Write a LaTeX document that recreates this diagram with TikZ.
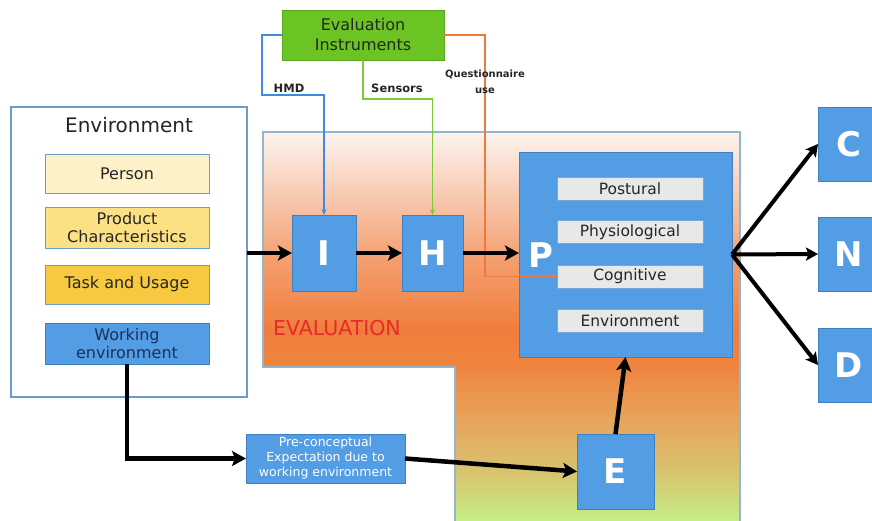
\documentclass[tikz,border=0pt]{standalone}
\usepackage{fontspec}
\setmainfont{DejaVu Sans}
\usetikzlibrary{arrows.meta,calc}

\definecolor{boxblue}{HTML}{529DE3}
\definecolor{boxedge}{HTML}{3F80C2}
\definecolor{envedge}{HTML}{6C9CC8}
\definecolor{instgreen}{HTML}{6CC324}
\definecolor{instedge}{HTML}{5AA51E}
\definecolor{personfill}{HTML}{FDF1C8}
\definecolor{productfill}{HTML}{FBE184}
\definecolor{taskfill}{HTML}{F6C940}
\definecolor{greyfill}{HTML}{E8E8E8}
\definecolor{regionedge}{HTML}{93B6CC}
\definecolor{hmdblue}{HTML}{3E8BE6}
\definecolor{sensgreen}{HTML}{7CCB35}
\definecolor{questorange}{HTML}{EE7A3A}
\definecolor{evalred}{HTML}{E52B2B}
\definecolor{navytext}{HTML}{1E2F5A}

% colour bands of the evaluation area, bottom (0bp) to top (100bp)
\pgfdeclareverticalshading{evalshade}{100bp}{%
  color(0bp)=(rgb,255:red,196;green,238;blue,136);
  color(25bp)=(rgb,255:red,196;green,238;blue,136);
  color(31.4bp)=(rgb,255:red,216;green,196;blue,110);
  color(37.9bp)=(rgb,255:red,230;green,165;blue,94);
  color(45bp)=(rgb,255:red,239;green,133;blue,63);
  color(49.5bp)=(rgb,255:red,240;green,125;blue,60);
  color(58.5bp)=(rgb,255:red,244;green,158;blue,110);
  color(67.5bp)=(rgb,255:red,248;green,205;blue,183);
  color(75bp)=(rgb,255:red,253;green,243;blue,238);
  color(100bp)=(rgb,255:red,253;green,243;blue,238)}

\tikzset{
  fsz/.style={font=\fontsize{#1}{#1}\selectfont},
  box/.style={rectangle, inner sep=0pt, outer sep=0pt, line width=1pt, align=center},
  bluebox/.style={box, fill=boxblue, draw=boxedge},
  greybox/.style={box, fill=greyfill, draw=boxedge!70, minimum width=146, minimum height=23,
                  text=black!85, font=\fontsize{15.5}{17}\selectfont},
  factor/.style={box, draw=envedge, minimum width=164, text=black!85,
                 font=\fontsize{16}{19}\selectfont},
  letter/.style={text=white, font=\fontsize{34}{34}\bfseries\selectfont},
  bigarrow/.style={line width=4.5pt, -{Stealth[length=14pt,width=15pt,inset=3pt]}},
  fanarrow/.style={line width=4pt, -{Stealth[length=12pt,width=13pt,inset=2.5pt]}},
  thinarrow/.style={line width=1.3pt, -{Stealth[length=6pt,width=5pt]}},
  tag/.style={text=black!85, font=\fontsize{11.5}{14}\bfseries\selectfont, align=center}
}

\begin{document}
\begin{tikzpicture}[x=1pt, y=-1pt]
\useasboundingbox (0,0) rectangle (872,520);
\clip (0,0) rectangle (872,520);

% environment panel
\node[box, draw=envedge, line width=1.2pt, fill=white, minimum width=236, minimum height=290] (env) at (129,252) {};
\node[fsz=20, text=black!85] (envtitle) at (129,125) {Environment};
\node[factor, fill=personfill, minimum height=39] (person) at (127,173.5) {Person};
\node[factor, fill=productfill, minimum height=41] (product) at (127,227.5) {Product\\[-1pt]Characteristics};
\node[factor, fill=taskfill, minimum height=39] (task) at (127,284.5) {Task and Usage};
\node[factor, fill=boxblue, draw=boxedge, minimum height=41, text=navytext] (work) at (127,343.5) {Working\\[-1pt]environment};

% evaluation area
\shade[shading=evalshade, draw=regionedge, line width=1.2pt]
  (263,132) -- (740,132) -- (740,522) -- (455,522) -- (455,367) -- (263,367) -- cycle;
\node[text=evalred, font=\fontsize{20.5}{20.5}\selectfont] (evaltag) at (337,328) {EVALUATION};

% perception block
\node[bluebox, minimum width=213, minimum height=205] (P) at (625.5,254.5) {};
\node[letter] (Pl) at (541,255) {P};
\node[greybox] (post) at (630,188.5) {Postural};
\node[greybox] (phys) at (630,232) {Physiological};
\node[greybox] (cog) at (630,276.5) {Cognitive};
\node[greybox] (envp) at (630,320.5) {Environment};

% stage boxes
\node[bluebox, letter, minimum width=64, minimum height=76] (I) at (324,253) {I};
\node[bluebox, letter, minimum width=61, minimum height=76] (H) at (432.5,253) {H};
\node[bluebox, letter, minimum width=77, minimum height=75] (E) at (615.5,471.5) {E};
\node[bluebox, letter, minimum width=62, minimum height=74] (C) at (849,144) {C};
\node[bluebox, letter, minimum width=62, minimum height=74] (N) at (849,254) {N};
\node[bluebox, letter, minimum width=62, minimum height=74] (D) at (849,365) {D};

\node[bluebox, minimum width=159, minimum height=49, text=white,
      font=\fontsize{12.5}{15}\selectfont] (pre) at (325.5,458.5)
      {Pre-conceptual\\Expectation due to\\working environment};

% instruments
\node[box, fill=instgreen, draw=instedge, minimum width=162, minimum height=50,
      text=black!85, font=\fontsize{16}{20}\selectfont] (instr) at (363,35)
      {Evaluation\\Instruments};

\draw[thinarrow, hmdblue] (instr.west) -- ++(-20,0) -- ++(0,60) -| (I.north);
\draw[thinarrow, sensgreen] (instr.south) -- ++(0,39) -| (H.north);
\draw[thinarrow, questorange] (instr.east) -- ++(41,0) |- (cog.west);

\node[tag] (hmdlab) at (289,88) {HMD};
\node[tag] (senslab) at (397,88) {Sensors};
\node[tag, font=\fontsize{10}{16}\bfseries\selectfont] (questlab) at (485,82) {Questionnaire\\use};

% main flow
\draw[bigarrow] (I.west -| env.east) -- (I.west);
\draw[bigarrow] (I.east) -- (H.west);
\draw[bigarrow] (H.east) -- (H.east -| P.west);
\draw[bigarrow] (work.south) |- (pre.west);
\draw[bigarrow] (pre.east) -- (E.west);
\draw[bigarrow] (E.north) -- (P.south);
\draw[fanarrow] (P.east) -- (C.west);
\draw[fanarrow] (P.east) -- (N.west);
\draw[fanarrow] (P.east) -- (D.west);
\end{tikzpicture}
\end{document}
